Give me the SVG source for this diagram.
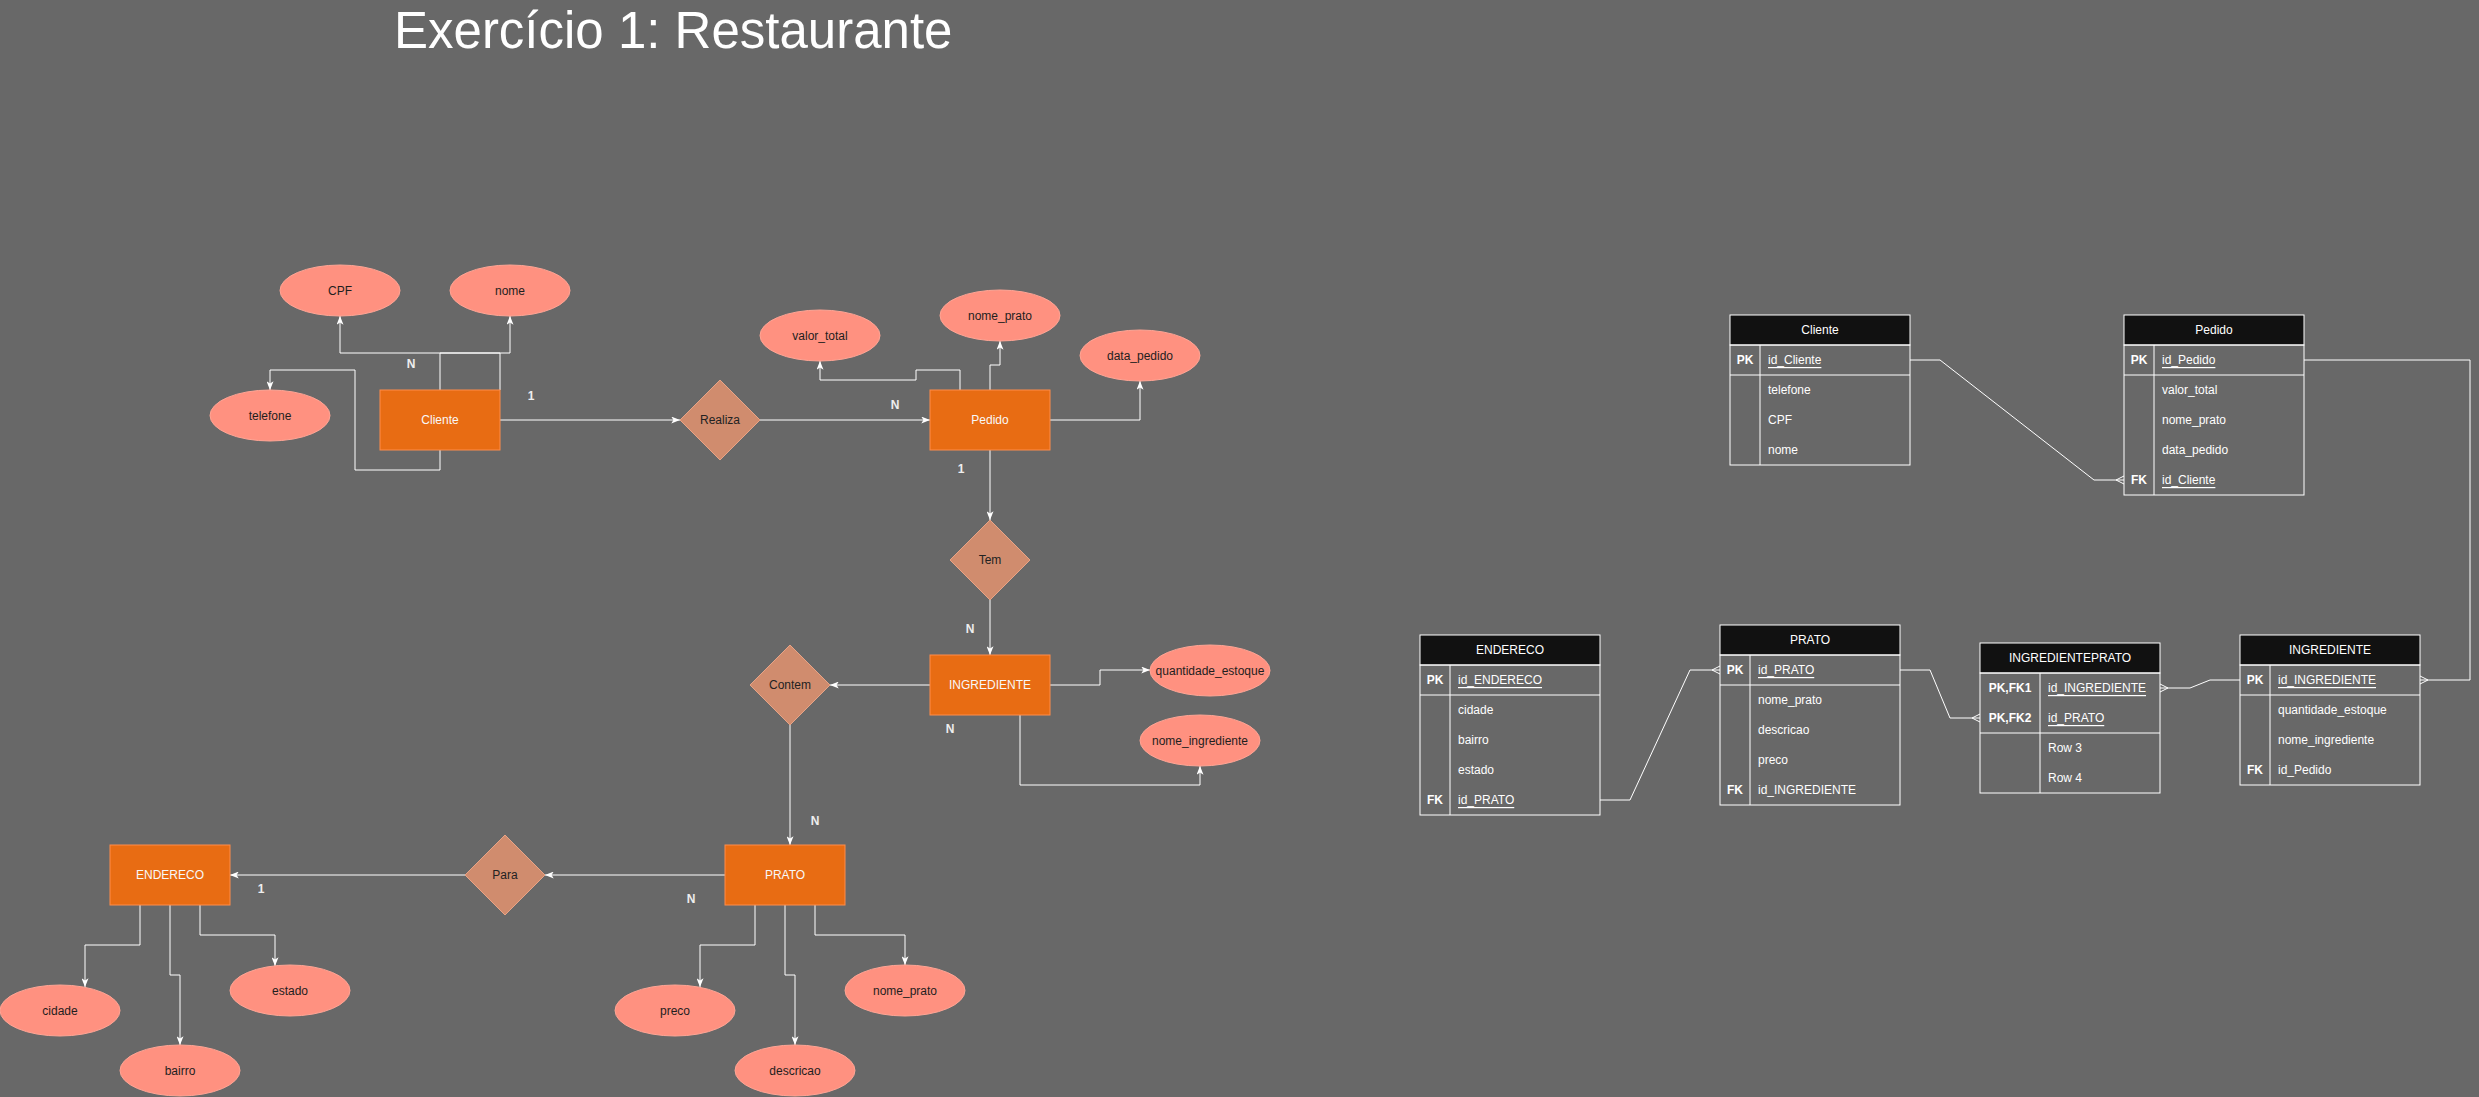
<svg xmlns="http://www.w3.org/2000/svg" width="2479" height="1097" viewBox="0 0 2479 1097">
<defs>
<style>
text{font-family:"Liberation Sans",Arial,sans-serif;font-size:12px}
.ent rect{fill:#E86C13;stroke:#FF8C4A;stroke-width:1}
.ent text{fill:#F8F8F8;text-anchor:middle;dominant-baseline:central}
.att ellipse{fill:#FF9180;stroke:#FFA595;stroke-width:1}
.att text{fill:#1E1E1E;text-anchor:middle;dominant-baseline:central}
.rel polygon{fill:#D08C6E;stroke:#E8A385;stroke-width:1}
.rel text{fill:#222;text-anchor:middle;dominant-baseline:central}
.lbl{fill:#EEEEEE;font-weight:bold;text-anchor:middle}
.conn path{fill:none;stroke:#FFFFFF;stroke-width:1}
.tbl .hd{fill:#111111;stroke:#FFFFFF;stroke-width:1}
.tbl .bd{fill:none;stroke:#FFFFFF;stroke-width:1}
.tbl line{stroke:#FFFFFF;stroke-width:1}
.tbl text{fill:#FFFFFF;dominant-baseline:central}
.tbl .ht{text-anchor:middle}
.tbl .k{text-anchor:middle;font-weight:bold}
.tbl .u{text-decoration:underline}
</style>
<marker id="arr" viewBox="0 0 10 8" refX="10" refY="4" markerWidth="9" markerHeight="7" markerUnits="userSpaceOnUse" orient="auto">
<path d="M0,0 L10,4 L0,8 L2.5,4 Z" fill="#FFFFFF"/>
</marker>
</defs>
<rect x="0" y="0" width="2479" height="1097" fill="#686868"/>
<text x="394" y="48" style="font-size:51px;fill:#FFFFFF">Exercício 1: Restaurante</text>

<g id="connectors" class="conn">
<path d="M500,390 V353 H340 V316" marker-end="url(#arr)"/>
<path d="M440,390 V353 H510 V316" marker-end="url(#arr)"/>
<path d="M440,450 V470 H355 V370 H270 V390" marker-end="url(#arr)"/>
<path d="M500,420 H680" marker-end="url(#arr)"/>
<path d="M760,420 H930" marker-end="url(#arr)"/>
<path d="M960,390 V370 H916 V380 H820 V361" marker-end="url(#arr)"/>
<path d="M990,390 V365 H1000 V341" marker-end="url(#arr)"/>
<path d="M1050,420 H1140 V381" marker-end="url(#arr)"/>
<path d="M990,450 V520" marker-end="url(#arr)"/>
<path d="M990,600 V655" marker-end="url(#arr)"/>
<path d="M930,685 H830" marker-end="url(#arr)"/>
<path d="M1050,685 H1100 V670 H1150" marker-end="url(#arr)"/>
<path d="M1020,715 V785 H1200 V766" marker-end="url(#arr)"/>
<path d="M790,725 V845" marker-end="url(#arr)"/>
<path d="M725,875 H545" marker-end="url(#arr)"/>
<path d="M465,875 H230" marker-end="url(#arr)"/>
<path d="M140,905 V945 H85 V987" marker-end="url(#arr)"/>
<path d="M170,905 V975 H180 V1045" marker-end="url(#arr)"/>
<path d="M200,905 V935 H275 V966" marker-end="url(#arr)"/>
<path d="M755,905 V945 H700 V987" marker-end="url(#arr)"/>
<path d="M785,905 V975 H795 V1045" marker-end="url(#arr)"/>
<path d="M815,905 V935 H905 V965" marker-end="url(#arr)"/>
<path d="M1910,360 H1940 L2094,480 H2124"/>
<path d="M2124,476 L2116,480 L2124,484"/>
<path d="M2304,360 H2470 V680 H2420"/>
<path d="M2420,676 L2428,680 L2420,684"/>
<path d="M1600,800 H1630 L1690,670 H1720"/>
<path d="M1720,666 L1712,670 L1720,674"/>
<path d="M1900,670 H1930 L1950,718 H1980"/>
<path d="M1980,714 L1972,718 L1980,722"/>
<path d="M2160,688 H2190 L2210,680 H2240"/>
<path d="M2160,684 L2168,688 L2160,692"/>
</g>

<g id="labels">
<text class="lbl" x="411" y="368">N</text>
<text class="lbl" x="531" y="400">1</text>
<text class="lbl" x="895" y="409">N</text>
<text class="lbl" x="961" y="473">1</text>
<text class="lbl" x="970" y="633">N</text>
<text class="lbl" x="950" y="733">N</text>
<text class="lbl" x="815" y="825">N</text>
<text class="lbl" x="691" y="903">N</text>
<text class="lbl" x="261" y="893">1</text>
</g>

<g id="Cliente" class="ent"><rect x="380" y="390" width="120" height="60"/><text x="440" y="420">Cliente</text></g>
<g id="Pedido" class="ent"><rect x="930" y="390" width="120" height="60"/><text x="990" y="420">Pedido</text></g>
<g id="INGREDIENTE" class="ent"><rect x="930" y="655" width="120" height="60"/><text x="990" y="685">INGREDIENTE</text></g>
<g id="PRATO" class="ent"><rect x="725" y="845" width="120" height="60"/><text x="785" y="875">PRATO</text></g>
<g id="ENDERECO" class="ent"><rect x="110" y="845" width="120" height="60"/><text x="170" y="875">ENDERECO</text></g>

<g id="Realiza" class="rel"><polygon points="720,380 760,420 720,460 680,420"/><text x="720" y="420">Realiza</text></g>
<g id="Tem" class="rel"><polygon points="990,520 1030,560 990,600 950,560"/><text x="990" y="560">Tem</text></g>
<g id="Contem" class="rel"><polygon points="790,645 830,685 790,725 750,685"/><text x="790" y="685">Contem</text></g>
<g id="Para" class="rel"><polygon points="505,835 545,875 505,915 465,875"/><text x="505" y="875">Para</text></g>

<g id="attr-CPF" class="att"><ellipse cx="340" cy="290.5" rx="60" ry="25.5"/><text x="340" y="290.5">CPF</text></g>
<g id="attr-nome" class="att"><ellipse cx="510" cy="290.5" rx="60" ry="25.5"/><text x="510" y="290.5">nome</text></g>
<g id="attr-telefone" class="att"><ellipse cx="270" cy="415.5" rx="60" ry="25.5"/><text x="270" y="415.5">telefone</text></g>
<g id="attr-valor_total" class="att"><ellipse cx="820" cy="335.5" rx="60" ry="25.5"/><text x="820" y="335.5">valor_total</text></g>
<g id="attr-nome_prato" class="att"><ellipse cx="1000" cy="315.5" rx="60" ry="25.5"/><text x="1000" y="315.5">nome_prato</text></g>
<g id="attr-data_pedido" class="att"><ellipse cx="1140" cy="355.5" rx="60" ry="25.5"/><text x="1140" y="355.5">data_pedido</text></g>
<g id="attr-quantidade_estoque" class="att"><ellipse cx="1210" cy="670.5" rx="60" ry="25.5"/><text x="1210" y="670.5">quantidade_estoque</text></g>
<g id="attr-nome_ingrediente" class="att"><ellipse cx="1200" cy="740.5" rx="60" ry="25.5"/><text x="1200" y="740.5">nome_ingrediente</text></g>
<g id="attr-cidade" class="att"><ellipse cx="60" cy="1010.5" rx="60" ry="25.5"/><text x="60" y="1010.5">cidade</text></g>
<g id="attr-bairro" class="att"><ellipse cx="180" cy="1070.5" rx="60" ry="25.5"/><text x="180" y="1070.5">bairro</text></g>
<g id="attr-estado" class="att"><ellipse cx="290" cy="990.5" rx="60" ry="25.5"/><text x="290" y="990.5">estado</text></g>
<g id="attr-preco" class="att"><ellipse cx="675" cy="1010.5" rx="60" ry="25.5"/><text x="675" y="1010.5">preco</text></g>
<g id="attr-descricao" class="att"><ellipse cx="795" cy="1070.5" rx="60" ry="25.5"/><text x="795" y="1070.5">descricao</text></g>
<g id="attr-nome_prato2" class="att"><ellipse cx="905" cy="990.5" rx="60" ry="25.5"/><text x="905" y="990.5">nome_prato</text></g>

<g id="tbl-Cliente" class="tbl">
<rect class="hd" x="1730" y="315" width="180" height="30"/>
<rect class="bd" x="1730" y="345" width="180" height="120"/>
<line x1="1730" y1="375" x2="1910" y2="375"/><line x1="1760" y1="345" x2="1760" y2="465"/>
<text class="ht" x="1820" y="330">Cliente</text>
<text class="k" x="1745" y="360">PK</text><text class="u" x="1768" y="360">id_Cliente</text>
<text x="1768" y="390">telefone</text><text x="1768" y="420">CPF</text><text x="1768" y="450">nome</text>
</g>

<g id="tbl-Pedido" class="tbl">
<rect class="hd" x="2124" y="315" width="180" height="30"/>
<rect class="bd" x="2124" y="345" width="180" height="150"/>
<line x1="2124" y1="375" x2="2304" y2="375"/><line x1="2154" y1="345" x2="2154" y2="495"/>
<text class="ht" x="2214" y="330">Pedido</text>
<text class="k" x="2139" y="360">PK</text><text class="u" x="2162" y="360">id_Pedido</text>
<text x="2162" y="390">valor_total</text><text x="2162" y="420">nome_prato</text><text x="2162" y="450">data_pedido</text>
<text class="k" x="2139" y="480">FK</text><text class="u" x="2162" y="480">id_Cliente</text>
</g>

<g id="tbl-ENDERECO" class="tbl">
<rect class="hd" x="1420" y="635" width="180" height="30"/>
<rect class="bd" x="1420" y="665" width="180" height="150"/>
<line x1="1420" y1="695" x2="1600" y2="695"/><line x1="1450" y1="665" x2="1450" y2="815"/>
<text class="ht" x="1510" y="650">ENDERECO</text>
<text class="k" x="1435" y="680">PK</text><text class="u" x="1458" y="680">id_ENDERECO</text>
<text x="1458" y="710">cidade</text><text x="1458" y="740">bairro</text><text x="1458" y="770">estado</text>
<text class="k" x="1435" y="800">FK</text><text class="u" x="1458" y="800">id_PRATO</text>
</g>

<g id="tbl-PRATO" class="tbl">
<rect class="hd" x="1720" y="625" width="180" height="30"/>
<rect class="bd" x="1720" y="655" width="180" height="150"/>
<line x1="1720" y1="685" x2="1900" y2="685"/><line x1="1750" y1="655" x2="1750" y2="805"/>
<text class="ht" x="1810" y="640">PRATO</text>
<text class="k" x="1735" y="670">PK</text><text class="u" x="1758" y="670">id_PRATO</text>
<text x="1758" y="700">nome_prato</text><text x="1758" y="730">descricao</text><text x="1758" y="760">preco</text>
<text class="k" x="1735" y="790">FK</text><text x="1758" y="790">id_INGREDIENTE</text>
</g>

<g id="tbl-INGREDIENTEPRATO" class="tbl">
<rect class="hd" x="1980" y="643" width="180" height="30"/>
<rect class="bd" x="1980" y="673" width="180" height="120"/>
<line x1="1980" y1="733" x2="2160" y2="733"/><line x1="2040" y1="673" x2="2040" y2="793"/>
<text class="ht" x="2070" y="658">INGREDIENTEPRATO</text>
<text class="k" x="2010" y="688">PK,FK1</text><text class="u" x="2048" y="688">id_INGREDIENTE</text>
<text class="k" x="2010" y="718">PK,FK2</text><text class="u" x="2048" y="718">id_PRATO</text>
<text x="2048" y="748">Row 3</text><text x="2048" y="778">Row 4</text>
</g>

<g id="tbl-INGREDIENTE" class="tbl">
<rect class="hd" x="2240" y="635" width="180" height="30"/>
<rect class="bd" x="2240" y="665" width="180" height="120"/>
<line x1="2240" y1="695" x2="2420" y2="695"/><line x1="2270" y1="665" x2="2270" y2="785"/>
<text class="ht" x="2330" y="650">INGREDIENTE</text>
<text class="k" x="2255" y="680">PK</text><text class="u" x="2278" y="680">id_INGREDIENTE</text>
<text x="2278" y="710">quantidade_estoque</text><text x="2278" y="740">nome_ingrediente</text>
<text class="k" x="2255" y="770">FK</text><text x="2278" y="770">id_Pedido</text>
</g>
</svg>
